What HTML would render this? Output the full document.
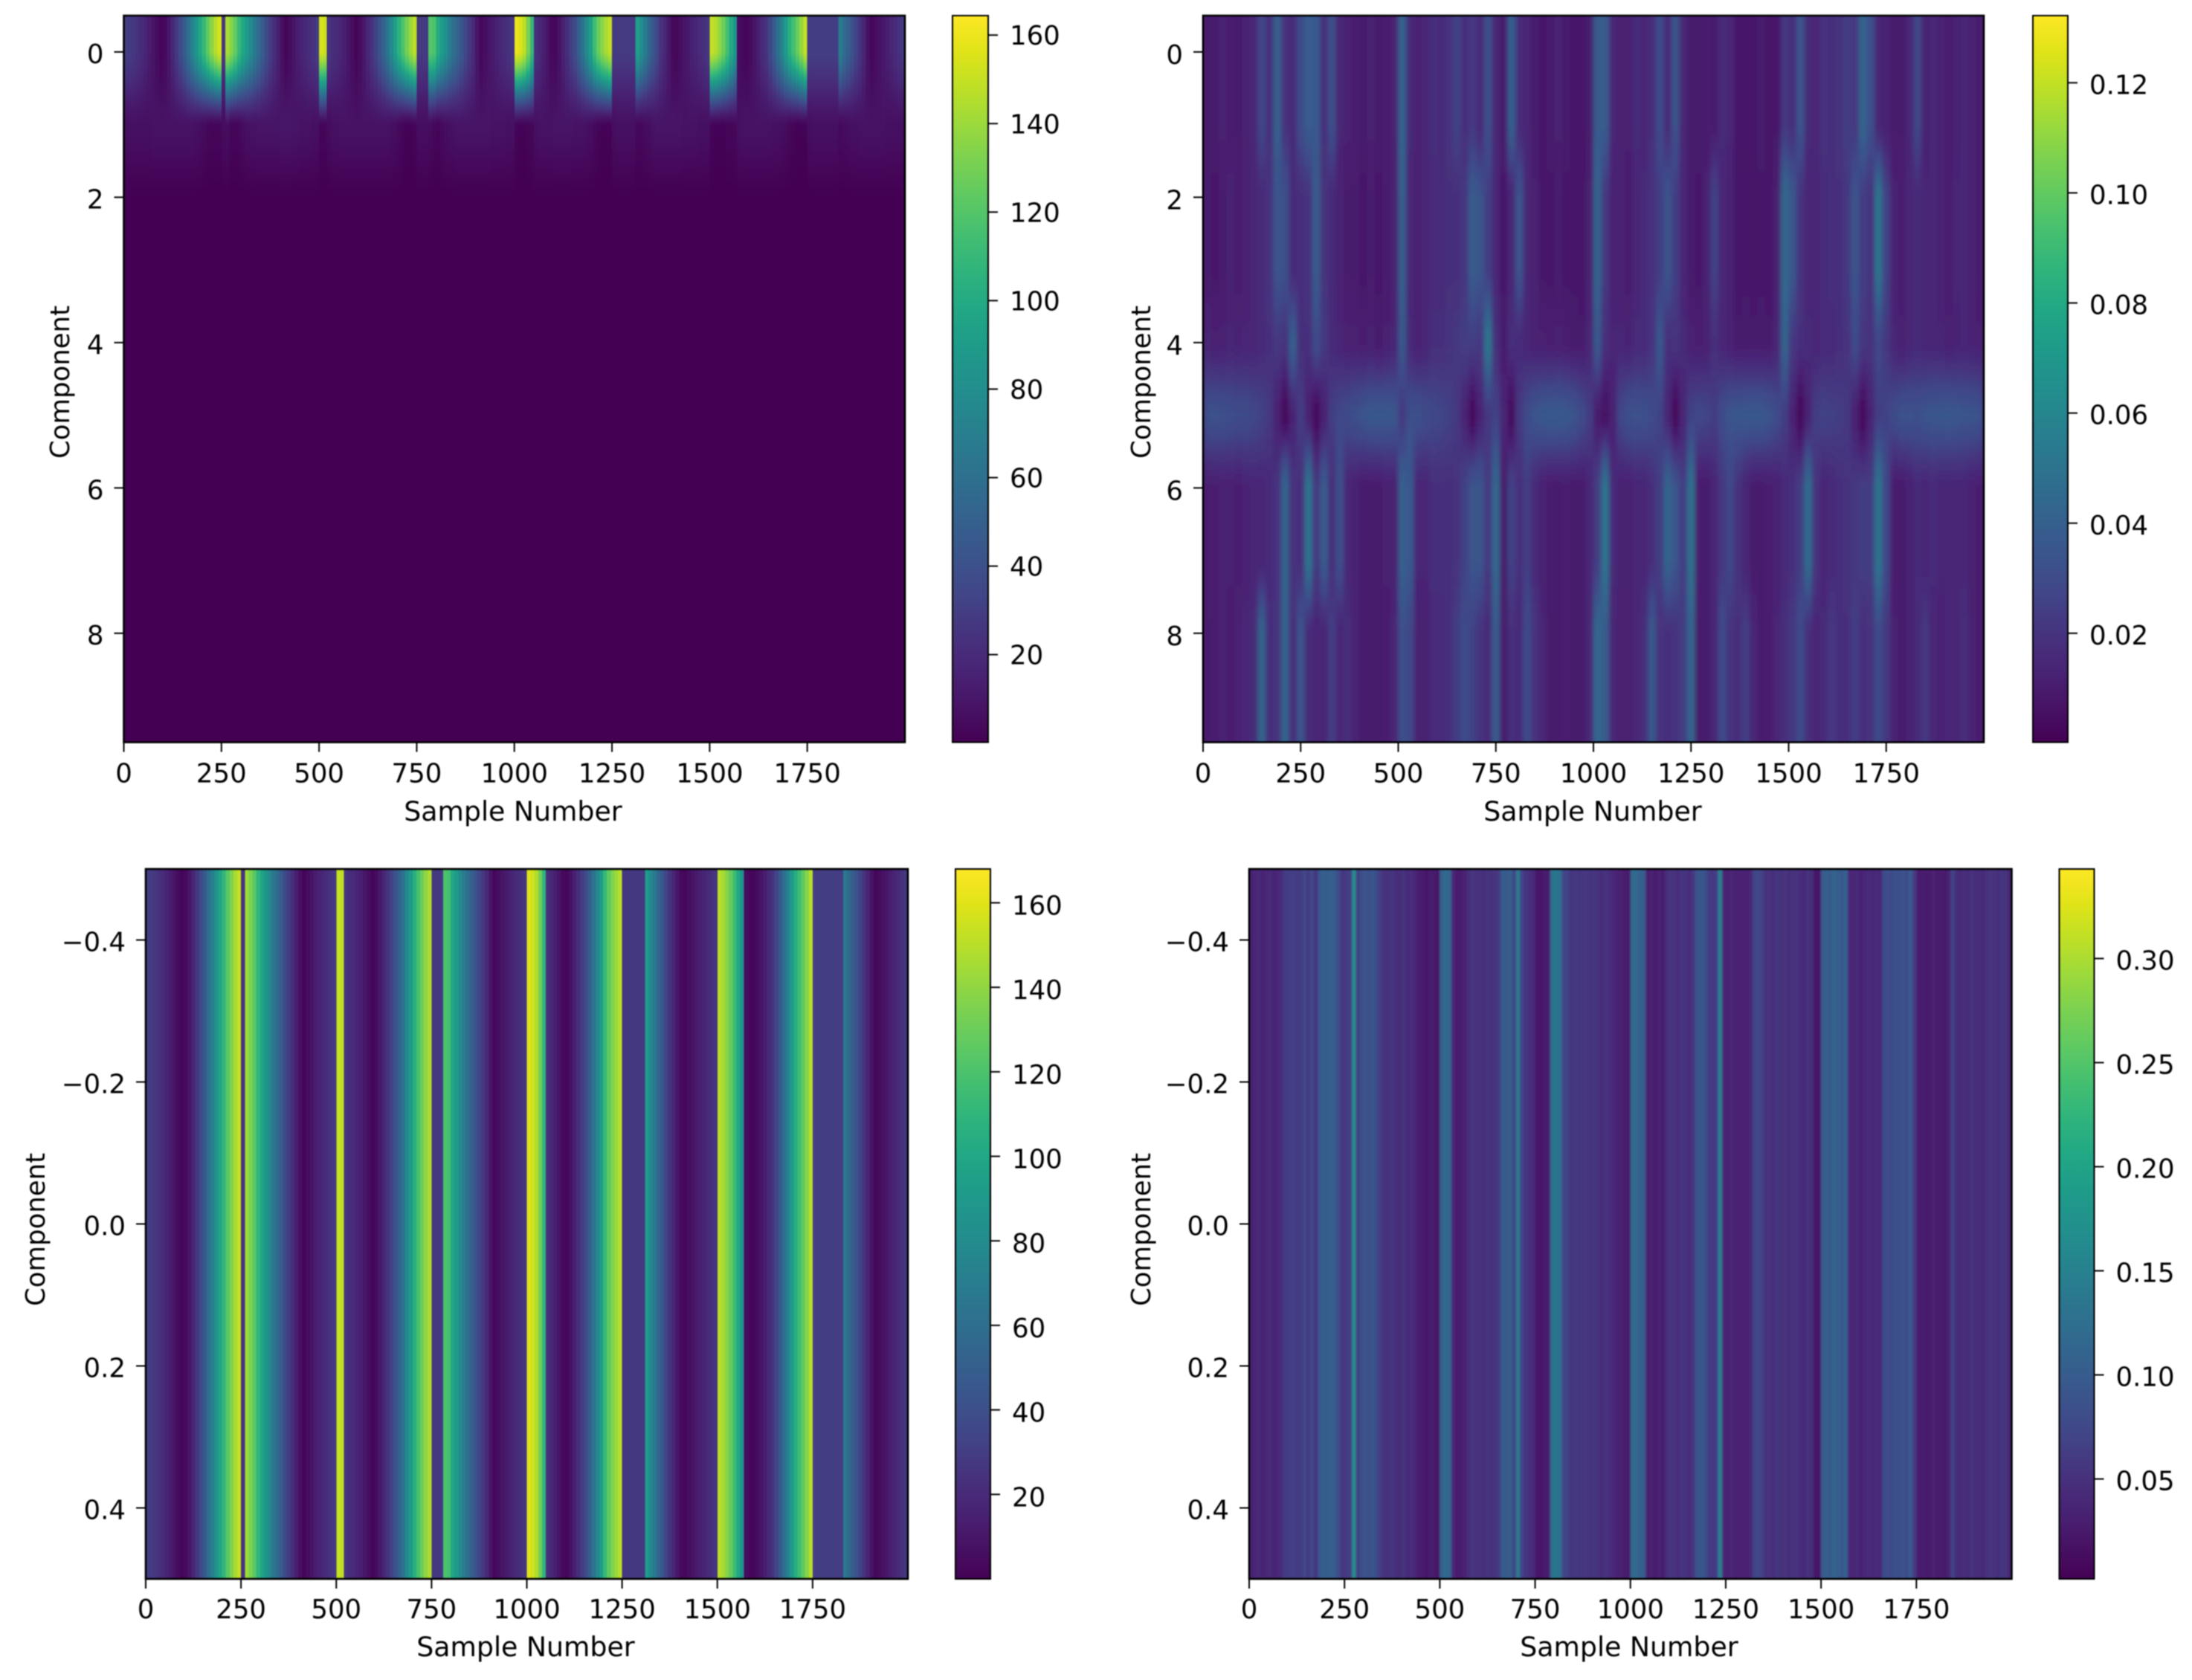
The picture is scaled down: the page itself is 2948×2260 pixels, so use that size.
<!DOCTYPE html>
<html>
<head>
<meta charset="utf-8">
<title>Component heatmaps</title>
<style>
html,body{margin:0;padding:0;background:#fff;width:2948px;height:2260px;overflow:hidden}
svg{display:block;filter:blur(0.7px)}
text{font-family:"DejaVu Sans","Liberation Sans",sans-serif;font-size:35.5px;fill:#000}
text.x-title{font-size:36.3px}
</style>
</head>
<body>
<svg id="figure" xmlns="http://www.w3.org/2000/svg" width="2948" height="2260" viewBox="0 0 2948 2260">
  <defs id="defs">
    <filter id="soft-wide" x="-5%" y="0%" width="110%" height="100%"><feGaussianBlur stdDeviation="3 0"></feGaussianBlur></filter>
    <filter id="soft-narrow" x="-5%" y="0%" width="110%" height="100%"><feGaussianBlur stdDeviation="1.2 0"></feGaussianBlur></filter>
  </defs>
  <rect x="0" y="0" width="2948" height="2260" fill="#fff"></rect>
  <g id="panel-a"></g>
  <g id="panel-b"></g>
  <g id="panel-c"></g>
  <g id="panel-d"></g>
  <text class="x-title" x="690" y="1104" text-anchor="middle">Sample Number</text>
  <text class="x-title" x="2142" y="1104" text-anchor="middle">Sample Number</text>
  <text class="x-title" x="707" y="2228" text-anchor="middle">Sample Number</text>
  <text class="x-title" x="2191" y="2228" text-anchor="middle">Sample Number</text>
  <text transform="translate(93,514) rotate(-90)" text-anchor="middle">Component</text>
  <text transform="translate(1547,514) rotate(-90)" text-anchor="middle">Component</text>
  <text transform="translate(60,1654) rotate(-90)" text-anchor="middle">Component</text>
  <text transform="translate(1547,1654) rotate(-90)" text-anchor="middle">Component</text>
</svg>
<script>
// ---------- tick labels ----------
const sampleTicks = [0, 250, 500, 750, 1000, 1250, 1500, 1750];
const componentTicksTop = [0, 2, 4, 6, 8];
const componentTicksBottom = [-0.4, -0.2, 0, 0.2, 0.4];
const colorTicksA = [20, 40, 60, 80, 100, 120, 140, 160];
const colorTicksB = [0.02, 0.04, 0.06, 0.08, 0.10, 0.12];
const colorTicksC = [20, 40, 60, 80, 100, 120, 140, 160];
const colorTicksD = [0.05, 0.10, 0.15, 0.20, 0.25, 0.30];

// ---------- component 0 amplitude, one value per 10 samples ----------
const amplitudeRow0 = [
30,29,27,24,21,17,13,9,5,2,
4,10,18,28,37,47,60,72,85,98,
110,124,136,146,154,25,143,135,125,110,
98,88,78,67,58,48,38,30,22,15,
7,2,5,9,13,16,19,22,25,28,
154,152,26,22,20,17,14,10,6,2,
5,11,18,25,32,42,52,63,77,92,
106,118,130,140,148,28,28,28,120,118,
100,90,80,69,60,52,44,35,27,20,
10,3,6,9,12,15,18,21,24,27,
160,156,148,132,110,23,19,14,9,4,
3,8,15,22,30,38,50,63,78,92,
112,126,136,143,150,28,28,28,28,28,
28,92,80,68,55,45,35,25,18,11,
4,3,6,9,12,15,17,20,23,26,
150,146,138,128,115,100,85,5,3,2,
5,9,14,20,25,35,47,60,73,90,
104,115,126,138,150,30,30,30,30,30,
30,30,30,68,58,50,42,33,25,17,
8,3,5,8,11,14,17,20,24,28];

const amplitudeRow1 = [
7,7,7,7,7,7,7,8,8,8,
8,8,8,8,8,8,8,8,7,6,
5,3,2,2,2,5,6,2,2,3,
5,7,8,8,9,9,9,9,9,9,
10,10,10,9,9,8,8,8,7,7,
2,2,5,7,7,8,8,8,8,8,
8,8,8,8,8,8,8,8,7,6,
4,2,1,1,2,6,6,6,5,3,
2,4,6,7,8,9,9,9,9,9,
9,9,9,9,8,8,8,8,7,7,
2,1,1,2,3,7,8,8,8,8,
9,9,9,9,9,8,8,8,7,6,
4,2,1,1,1,6,7,7,7,7,
7,3,3,5,6,8,9,9,9,9,
9,9,9,8,8,8,8,7,7,7,
2,1,1,1,2,2,3,7,8,8,
8,8,8,8,8,8,7,7,6,5,
3,2,1,1,1,6,7,7,7,7,
7,7,7,4,5,6,7,7,8,8,
8,8,8,8,8,7,7,7,7,7];

const amplitudeRest = [
0,0,0,0,0,0,0,0,0,0,0,0,0,0,0,0,0,0,0,0,
0,0,0,0,0,0,0,0,0,0,0,0,0,0,0,0,0,0,0,0,
0,0,0,0,0,0,0,0,0,0,0,0,0,0,0,0,0,0,0,0,
0,0,0,0,0,0,0,0,0,0,0,0,0,0,0,0,0,0,0,0,
0,0,0,0,0,0,0,0,0,0,0,0,0,0,0,0,0,0,0,0,
0,0,0,0,0,0,0,0,0,0,0,0,0,0,0,0,0,0,0,0,
0,0,0,0,0,0,0,0,0,0,0,0,0,0,0,0,0,0,0,0,
0,0,0,0,0,0,0,0,0,0,0,0,0,0,0,0,0,0,0,0,
0,0,0,0,0,0,0,0,0,0,0,0,0,0,0,0,0,0,0,0,
0,0,0,0,0,0,0,0,0,0,0,0,0,0,0,0,0,0,0,0];

// ---------- top-right panel, thousandths, one value per 20 samples ----------
const residualTop = [
10,10,12,11,10,12,14,28,18,40,
20,16,30,38,36,18,32,14,12,11,
10,12,10,11,12,42,16,12,14,18,
16,20,26,18,22,16,32,14,10,40,
16,14,10,9,10,12,10,9,8,10,
38,38,14,12,12,16,14,18,30,16,
33,14,10,10,11,10,16,14,9,8,
9,10,8,9,22,18,34,16,14,20,
18,20,24,22,42,32,14,12,10,10,
14,28,12,14,12,11,12,14,12,10];
const residualUpper = [
10,9,10,12,11,12,14,16,20,34,
32,16,18,20,38,20,16,12,10,10,
9,10,9,10,12,40,14,12,14,16,
16,18,18,22,38,34,24,14,9,14,
34,14,12,9,9,10,9,9,8,12,
42,22,12,12,11,14,16,20,24,34,
24,14,10,9,12,26,14,12,8,9,
8,9,8,12,44,36,20,14,14,16,
18,18,22,34,24,20,50,26,12,11,
14,16,14,14,12,11,14,14,12,10];
const residualMid = [
14,12,12,14,13,14,14,16,18,22,
20,40,18,18,30,22,16,14,12,12,
11,12,10,12,14,36,16,12,14,18,
18,20,22,24,24,22,52,18,10,18,
16,14,12,12,11,12,11,10,10,14,
36,18,14,14,13,16,16,20,36,18,
20,16,12,11,12,18,14,12,10,10,
10,10,10,14,42,22,18,16,14,16,
16,18,20,30,22,20,28,22,14,12,
14,16,14,14,14,12,13,14,13,12];
const residualBand = [
32,33,32,31,30,30,28,26,22,12,
3,13,24,12,3,12,24,28,30,32,
34,36,36,36,35,22,32,32,30,28,
27,25,22,13,3,13,22,26,14,4,
22,30,34,36,37,37,36,34,30,24,
10,6,12,28,32,33,32,30,26,14,
3,14,26,28,27,24,30,34,35,36,
36,36,34,30,24,13,3,13,24,26,
25,24,22,12,3,13,24,26,30,33,
33,32,34,35,35,36,35,34,34,33];
const residualLower = [
11,11,12,12,11,13,14,14,16,20,
42,20,18,50,22,38,18,32,14,12,
10,10,10,12,12,40,36,14,14,18,
18,18,20,26,34,34,22,44,10,26,
18,24,16,12,10,10,11,10,10,14,
24,50,16,12,12,14,14,18,24,42,
34,24,48,10,10,14,22,28,20,14,
10,10,11,12,16,18,24,46,20,14,
16,18,20,22,24,24,50,28,10,10,
12,16,14,16,14,14,14,14,12,11];
const residualBottom = [
10,11,12,11,13,14,16,42,18,20,
42,18,34,16,14,14,24,14,18,12,
10,10,10,11,14,32,28,12,12,16,
16,18,24,30,26,20,16,38,10,18,
16,30,20,14,10,10,11,10,10,14,
44,38,14,12,12,14,18,36,20,18,
20,24,42,10,10,14,30,20,18,24,
14,10,11,14,18,22,30,18,14,16,
22,18,18,24,18,20,30,22,12,10,
12,16,22,14,13,14,14,18,12,11];

// ---------- bottom-right panel, thousandths, one value per 10 samples ----------
const residualSingle = [
35,38,42,34,38,44,36,40,48,62,
64,66,60,62,74,60,76,56,96,104,
100,106,98,80,56,60,66,170,62,84,
88,84,92,78,60,52,50,56,48,46,
50,44,48,40,30,26,24,28,26,22,
110,115,112,40,30,28,34,46,54,50,
52,48,56,50,54,60,102,98,104,70,
142,70,56,48,44,25,24,26,28,130,
134,126,72,68,56,58,56,54,58,52,
56,50,48,52,46,40,36,32,28,26,
122,116,108,100,30,32,28,34,30,48,
54,50,46,56,52,48,58,90,92,86,
62,58,64,150,36,34,38,32,34,36,
34,40,72,74,68,50,52,48,56,50,
54,46,50,52,48,44,50,46,20,24,
100,104,98,112,100,96,106,40,38,42,
36,40,44,38,42,40,80,84,78,86,
82,88,80,100,60,28,30,26,28,32,
28,30,26,32,70,46,42,48,44,50,
46,48,42,50,54,52,48,56,50,40];

// ---------- colour limits ----------
const limitsA = [0.2, 164.4];
const limitsB = [0.0002, 0.1322];
const limitsC = [0, 168];
const limitsD = [0.002, 0.343];

const matrixA = [amplitudeRow0, amplitudeRow1, amplitudeRest, amplitudeRest, amplitudeRest, amplitudeRest, amplitudeRest, amplitudeRest, amplitudeRest, amplitudeRest];
const matrixB = [residualTop, residualTop, residualUpper, residualUpper, residualMid, residualBand, residualLower, residualLower, residualBottom, residualBottom];

const SVG_NS = 'http://www.w3.org/2000/svg';
const viridisStops = ['#440154','#471365','#482475','#46337e','#414487','#3b528b','#355f8d','#2f6c8e','#2a788e','#25858e','#21918c','#1e9c89','#22a884','#2fb47c','#44bf70','#5ec962','#7ad151','#9bd93c','#bddf26','#dfe318','#fde725'];

function hexToRgb(h) {
  return [parseInt(h.slice(1, 3), 16), parseInt(h.slice(3, 5), 16), parseInt(h.slice(5, 7), 16)];
}
const viridisRgb = viridisStops.map(hexToRgb);
function viridis(t) {
  const c = Math.max(0, Math.min(1, t)) * (viridisRgb.length - 1);
  const i = Math.min(viridisRgb.length - 2, Math.floor(c));
  const f = c - i;
  const a = viridisRgb[i], b = viridisRgb[i + 1];
  return 'rgb(' + [0, 1, 2].map(k => Math.round(a[k] + (b[k] - a[k]) * f)).join(',') + ')';
}
function make(tag, attrs, parent) {
  const el = document.createElementNS(SVG_NS, tag);
  for (const k in attrs) el.setAttribute(k, attrs[k]);
  parent.appendChild(el);
  return el;
}
function linear(d0, d1, r0, r1) {
  return v => r0 + (v - d0) / (d1 - d0) * (r1 - r0);
}
const defs = document.getElementById('defs');
let gradientId = 0;

function drawColumnsFromMatrix(group, matrix, binSize, limits, xScale, yScale) {
  const yMin = -0.5, yMax = matrix.length - 0.5;
  const positions = [yMin];
  for (let k = 0; k <= (matrix.length - 1) * 10; k++) positions.push(k / 10);
  positions.push(yMax);
  const bins = matrix[0].length;
  for (let i = 0; i < bins; i++) {
    const id = 'column-gradient-' + (gradientId++);
    const grad = make('linearGradient', {id: id, gradientUnits: 'userSpaceOnUse', x1: 0, x2: 0, y1: yScale(yMin), y2: yScale(yMax)}, defs);
    for (const y of positions) {
      const c = Math.max(0, Math.min(matrix.length - 1, y));
      const r0 = Math.min(matrix.length - 2, Math.floor(c));
      const f = c - r0;
      const eased = 0.5 * f + 0.5 * f * f * (3 - 2 * f);
      const value = matrix[r0][i] * (1 - eased) + matrix[r0 + 1][i] * eased;
      make('stop', {offset: (y - yMin) / (yMax - yMin), 'stop-color': viridis((value - limits[0]) / (limits[1] - limits[0]))}, grad);
    }
    const x0 = xScale(i * binSize), x1 = xScale((i + 1) * binSize);
    const cell = make('rect', {x: x0, y: yScale(yMin), width: x1 - x0 + (i < bins - 1 ? 0.7 : 0), height: yScale(yMax) - yScale(yMin), fill: 'url(#' + id + ')', 'shape-rendering': 'crispEdges'}, group);
    
    
  }
}
function drawColumnsFromRow(group, row, binSize, limits, xScale, top, bottom) {
  for (let i = 0; i < row.length; i++) {
    const x0 = xScale(i * binSize), x1 = xScale((i + 1) * binSize);
    const cell = make('rect', {x: x0, y: top, width: x1 - x0 + (i < row.length - 1 ? 0.7 : 0), height: bottom - top, fill: viridis((row[i] - limits[0]) / (limits[1] - limits[0])), 'shape-rendering': 'crispEdges'}, group);
    
    
  }
}
// Wraps a heatmap in a clipped layer; an optional horizontal softening hides the bin steps of the finest stripes.
function heatmapLayer(parent, p, softenId, backdrop) {
  const clipId = 'plot-clip-' + (gradientId++);
  const clip = make('clipPath', {id: clipId}, defs);
  make('rect', {x: p.left, y: p.top, width: p.right - p.left, height: p.bottom - p.top}, clip);
  const outer = make('g', {'clip-path': 'url(#' + clipId + ')'}, parent);
  
  
  if (backdrop) {
    const back = make('rect', {x: p.left, y: p.top, width: p.right - p.left, height: p.bottom - p.top, fill: backdrop}, outer);
    
    
  }
  const inner = make('g', softenId ? {filter: 'url(#' + softenId + ')'} : {}, outer);
  
  
  return inner;
}
function drawAxes(group, p, yTicks, yScale, xScale, yFormat) {
  const frame = make('rect', {x: p.left, y: p.top, width: p.right - p.left, height: p.bottom - p.top, fill: 'none', stroke: '#000', 'stroke-width': 2.6}, group);
  
  
  for (const t of sampleTicks) {
    const tick = make('line', {x1: xScale(t), x2: xScale(t), y1: p.bottom, y2: p.bottom + 13, stroke: '#000', 'stroke-width': 2}, group);
    
    
    const label = make('text', {x: xScale(t), y: p.bottom + p.xLabelDy, 'text-anchor': 'middle'}, group);
    label.textContent = String(t);
    
    
  }
  for (const t of yTicks) {
    const tick = make('line', {x1: p.left - 13, x2: p.left, y1: yScale(t), y2: yScale(t), stroke: '#000', 'stroke-width': 2}, group);
    
    
    const label = make('text', {x: p.left - 27, y: yScale(t) + p.yLabelDy, 'text-anchor': 'end'}, group);
    label.textContent = yFormat(t);
    
    
  }
}
function drawColorbar(group, p, limits, ticks, format) {
  const id = 'colorbar-gradient-' + (gradientId++);
  const grad = make('linearGradient', {id: id, x1: 0, x2: 0, y1: 1, y2: 0}, defs);
  for (let i = 0; i < viridisStops.length; i++) {
    make('stop', {offset: i / (viridisStops.length - 1), 'stop-color': viridisStops[i]}, grad);
  }
  const bar = make('rect', {x: p.cbLeft, y: p.top, width: p.cbRight - p.cbLeft, height: p.bottom - p.top, fill: 'url(#' + id + ')', stroke: '#000', 'stroke-width': 2}, group);
  
  
  const cScale = linear(limits[0], limits[1], p.bottom, p.top);
  for (const t of ticks) {
    const tick = make('line', {x1: p.cbRight, x2: p.cbRight + 13, y1: cScale(t), y2: cScale(t), stroke: '#000', 'stroke-width': 2}, group);
    
    
    const label = make('text', {x: p.cbRight + 29, y: cScale(t) + p.cbLabelDy, 'text-anchor': 'start'}, group);
    label.textContent = format(t);
    
    
  }
}
const intFormat = v => String(v);
const fixed2 = v => v.toFixed(2);
const signedFixed1 = v => (v < 0 ? '\u2212' : '') + Math.abs(v).toFixed(1);

const layoutA = {left: 166.5, right: 1217, top: 21, bottom: 998.5, cbLeft: 1281, cbRight: 1329, xLabelDy: 54, yLabelDy: 15, cbLabelDy: 13};
const layoutB = {left: 1618, right: 2668, top: 21, bottom: 998.5, cbLeft: 2734, cbRight: 2781, xLabelDy: 54, yLabelDy: 16, cbLabelDy: 15};
const layoutC = {left: 196, right: 1221, top: 1169, bottom: 2124, cbLeft: 1285, cbRight: 1332, xLabelDy: 53, yLabelDy: 15, cbLabelDy: 16};
const layoutD = {left: 1680, right: 2705.5, top: 1169, bottom: 2124, cbLeft: 2769.5, cbRight: 2816.5, xLabelDy: 53, yLabelDy: 15, cbLabelDy: 15};

function drawTopPanel(id, p, matrix, binSize, limits, colorTicks, colorFormat, softenId, backdrop) {
  const group = document.getElementById(id);
  const xScale = linear(0, 2000, p.left, p.right);
  const yScale = linear(-0.5, 9.5, p.top, p.bottom);
  drawColumnsFromMatrix(heatmapLayer(group, p, softenId, backdrop), matrix, binSize, limits, xScale, yScale);
  drawAxes(group, p, componentTicksTop, yScale, xScale, intFormat);
  drawColorbar(group, p, limits, colorTicks, colorFormat);
}
function drawBottomPanel(id, p, row, binSize, limits, colorTicks, colorFormat, softenId, backdrop) {
  const group = document.getElementById(id);
  const xScale = linear(0, 2000, p.left, p.right);
  const yScale = linear(-0.5, 0.5, p.top, p.bottom);
  drawColumnsFromRow(heatmapLayer(group, p, softenId, backdrop), row, binSize, limits, xScale, p.top, p.bottom);
  drawAxes(group, p, componentTicksBottom, yScale, xScale, signedFixed1);
  drawColorbar(group, p, limits, colorTicks, colorFormat);
}

drawTopPanel('panel-a', layoutA, matrixA, 10, limitsA, colorTicksA, intFormat, null, null);
drawTopPanel('panel-b', layoutB, matrixB.map(r => r.map(v => v / 1000)), 20, limitsB, colorTicksB, fixed2, 'soft-wide', '#481a6c');
drawBottomPanel('panel-c', layoutC, amplitudeRow0, 10, limitsC, colorTicksC, intFormat, null, null);
drawBottomPanel('panel-d', layoutD, residualSingle.map(v => v / 1000), 10, limitsD, colorTicksD, fixed2, 'soft-narrow', '#482173');
</script>
</body>
</html>
